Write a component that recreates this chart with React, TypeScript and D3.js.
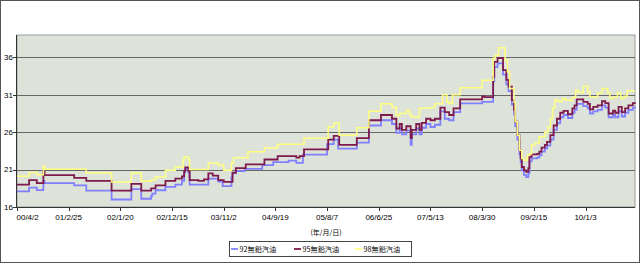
import React from 'react';
import * as d3 from 'd3';

// [week index, price]
const p92: [number, number][] = [[0,18.1],[11,18.6],[18,18.25],[24,19.5],[25,19.2],[52,18.9],[63,18.2],[86,17.0],[104,18.4],[113,17.1],[122,17.5],[123,17.8],[126,18.24],[135,18.7],[144,19.0],[150,19.5],[152,20.6],[153,21.1],[156,20.6],[157,19.0],[174,19.8],[183,19.4],[187,18.8],[195,20.0],[196,20.5],[199,20.8],[207,21.1],[223,21.6],[233,22.0],[247,22.2],[254,21.9],[260,23.0],[282,24.4],[288,25.0],[292,23.8],[309,24.6],[320,26.9],[331,27.6],[341,27.1],[345,25.9],[348,26.5],[350,25.7],[354,26.2],[358,24.3],[359,25.7],[363,26.5],[366,25.7],[368,26.6],[372,27.1],[376,26.7],[380,27.0],[385,28.8],[389,27.8],[393,27.6],[397,28.7],[403,29.85],[423,30.05],[433,32.8],[434,34.7],[437,35.2],[442,33.7],[445,32.4],[447,31.5],[450,29.7],[452,28.4],[453,26.8],[455,25.0],[457,23.0],[458,22.0],[459,20.9],[461,20.3],[463,20.0],[465,20.5],[466,22.1],[468,22.5],[473,22.6],[475,22.9],[477,23.4],[480,23.8],[482,24.2],[485,25.0],[488,26.3],[491,27.2],[494,28.0],[497,28.3],[501,27.9],[505,28.6],[507,29.0],[509,29.8],[515,29.5],[519,29.2],[521,28.5],[524,28.8],[528,29.0],[532,29.6],[535,29.3],[538,28.0],[542,28.3],[544,28.0],[547,28.8],[550,28.1],[553,28.6],[556,29.0],[560,29.3],[562,29.2]];

const p95: [number, number][] = [[0,19.0],[11,19.6],[18,19.2],[24,20.7],[25,20.25],[52,19.9],[63,19.5],[86,18.2],[104,19.1],[113,18.2],[122,18.5],[126,18.9],[135,19.5],[144,19.8],[150,20.1],[152,20.8],[153,21.3],[156,20.8],[157,19.6],[165,19.5],[170,19.7],[174,20.5],[178,20.2],[183,19.6],[188,19.35],[196,20.6],[199,21.2],[208,21.7],[225,22.35],[237,22.8],[254,22.6],[257,22.8],[261,23.7],[283,25.0],[288,25.5],[293,24.3],[309,25.2],[320,27.6],[331,28.3],[341,27.8],[345,26.5],[348,27.1],[350,26.3],[354,26.8],[358,25.2],[359,26.3],[363,27.1],[366,26.3],[368,27.25],[372,27.8],[376,27.6],[380,27.8],[385,29.3],[389,28.7],[393,28.3],[397,29.2],[403,30.4],[423,30.8],[425,30.7],[433,33.4],[434,35.4],[437,35.9],[442,34.3],[445,33.0],[447,32.1],[450,30.3],[452,29.0],[453,27.4],[455,25.6],[457,23.6],[458,22.5],[459,21.35],[461,20.9],[463,20.7],[465,21.2],[466,22.7],[468,23.05],[473,23.1],[475,23.4],[477,23.95],[480,24.3],[482,24.7],[485,25.6],[488,26.9],[491,27.8],[494,28.6],[497,28.85],[501,28.4],[505,29.2],[507,29.6],[509,30.4],[515,30.05],[519,29.8],[521,29.05],[524,29.4],[528,29.6],[532,30.15],[535,29.9],[538,28.5],[542,28.9],[544,28.6],[547,29.4],[550,28.7],[553,29.2],[556,29.6],[560,29.9],[562,29.8]];

const p98: [number, number][] = [[0,20.1],[11,20.6],[18,20.3],[24,21.5],[25,21.05],[63,20.55],[86,19.35],[104,20.55],[113,19.45],[122,19.6],[126,20.0],[135,20.9],[144,21.35],[151,22.3],[152,22.7],[156,22.3],[157,21.0],[174,21.9],[183,21.6],[188,20.9],[195,21.9],[197,22.6],[210,23.4],[225,23.9],[237,24.4],[261,25.2],[283,26.7],[288,27.2],[293,25.6],[309,26.6],[320,28.8],[331,29.8],[341,29.3],[345,28.2],[348,28.5],[354,28.95],[357,28.3],[359,28.05],[366,29.2],[376,29.3],[380,29.8],[387,31.0],[391,30.05],[393,29.85],[396,31.0],[403,31.95],[423,32.95],[433,35.9],[435,36.3],[438,37.3],[444,35.6],[446,34.1],[448,31.85],[452,30.05],[453,27.4],[455,25.6],[457,23.6],[459,22.5],[461,22.25],[464,22.9],[466,23.1],[468,24.3],[471,24.6],[475,25.4],[480,26.0],[483,26.7],[485,27.8],[487,29.2],[489,30.3],[492,30.1],[496,30.5],[499,30.3],[503,30.2],[505,30.65],[508,31.6],[510,31.3],[515,32.15],[519,31.4],[521,30.7],[528,31.2],[532,31.85],[537,31.3],[539,30.5],[542,30.7],[546,31.25],[549,30.5],[552,30.8],[555,31.55],[560,31.5],[562,31.5]];

const xLabels = ['00/4/2','01/2/25','02/1/20','02/12/15','03/11/2','04/9/19','05/8/7','06/6/25','07/5/13','08/3/30','09/2/15','10/1/3'];
const labelStep = 47;
const lastIndex = 562;
const yTicks = [16, 21, 26, 31, 36];
const yDomain: [number, number] = [16, 39];

const seriesNames = ['92無鉛汽油', '95無鉛汽油', '98無鉛汽油'];
const seriesData = [p92, p95, p98];
const colors = ['#8080ff', '#7e1a4c', '#ffff80'];

export default function App() {
  const L = 17, R = 635, T = 35, B = 207;
  const x = d3.scaleLinear().domain([0, lastIndex]).range([L, R]);
  const y = d3.scaleLinear().domain(yDomain).range([B, T]);
  const line = d3.line<[number, number]>()
    .x(d => x(d[0]))
    .y(d => y(d[1]))
    .curve(d3.curveStepAfter);
  const font = '"Liberation Sans", Arial, sans-serif';
  const cjk = '"Noto Sans CJK TC", "Liberation Sans", sans-serif';
  const legendX = [231, 294, 355];
  return (
    <svg width={640} height={263} style={{ position: 'absolute', left: 0, top: 0 }}>
      <rect x={0.5} y={0.5} width={639} height={262} fill="#fff" stroke="#555" />
      <rect x={L} y={T} width={R - L} height={B - T} fill="#dde3d8" stroke="#999" />
      {yTicks.map(t => (
        <g key={t}>
          {t !== yDomain[0] && (
            <line x1={L} x2={R} y1={Math.round(y(t)) + 0.5} y2={Math.round(y(t)) + 0.5} stroke="#666" strokeWidth={1.2} />
          )}
          <line x1={13} x2={L} y1={Math.round(y(t)) + 0.5} y2={Math.round(y(t)) + 0.5} stroke="#333" />
          <text x={13} y={y(t)} dy="0.35em" textAnchor="end" fontSize={8} fontFamily={font} fill="#000">{t}</text>
        </g>
      ))}
      <line x1={L - 0.5} x2={L - 0.5} y1={T} y2={B} stroke="#333" />
      <line x1={L} x2={R} y1={B + 0.5} y2={B + 0.5} stroke="#333" />
      {xLabels.map((lab, i) => {
        const xi = x(i * labelStep);
        return (
          <g key={lab}>
            <line x1={Math.round(xi) + 0.5} x2={Math.round(xi) + 0.5} y1={B} y2={B + 4} stroke="#333" />
            <text x={i === 0 ? L - 0.5 : xi} y={219.5} textAnchor={i === 0 ? 'start' : 'middle'} fontSize={8} fontFamily={font} fill="#000">{lab}</text>
          </g>
        );
      })}
      {seriesData.map((s, i) => (
        <path key={i} d={line(s) || ''} fill="none" stroke={colors[i]} strokeWidth={i === 2 ? 1.5 : 1.8} />
      ))}
      <text x={(L + R) / 2} y={234.5} textAnchor="middle" fontSize={7} fontFamily={cjk} fill="#000">(年/月/日)</text>
      <rect x={229.5} y={241.5} width={182} height={15} fill="#fff" stroke="#444" />
      {seriesNames.map((n, i) => (
        <g key={n}>
          <line x1={legendX[i]} x2={legendX[i] + 7} y1={249} y2={249} stroke={colors[i]} strokeWidth={1.8} />
          <text x={legendX[i] + 8.5} y={251.8} fontSize={7.2} fontFamily={cjk} fill="#000">{n}</text>
        </g>
      ))}
    </svg>
  );
}
